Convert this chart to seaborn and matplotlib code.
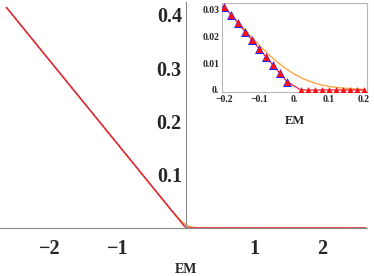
import numpy as np
import pandas as pd
import matplotlib.pyplot as plt
import seaborn as sns
from matplotlib.ticker import MultipleLocator, FixedLocator

# main panel: full curves
main_x = [-2.64, -0.02, 0.02, 2.64]
main_y = [0.414, 0.0031, 0.0, 0.0]
smooth_x = [-2.64, -0.2, -0.175, -0.15, -0.125, -0.1, -0.075, -0.05, -0.025, 0.0,
            0.025, 0.05, 0.075, 0.1, 0.125, 0.15, 0.175, 0.2, 2.64]
smooth_y = [0.414, 0.0310, 0.0275, 0.0238, 0.0203, 0.0168, 0.0136, 0.0107, 0.0082, 0.0060,
            0.0043, 0.0030, 0.0020, 0.00135, 0.0009, 0.0006, 0.0004, 0.00024, 0.0]

# inset: points near zero
pts_x = [-0.2, -0.18, -0.16, -0.14, -0.12, -0.1, -0.08, -0.06, -0.04, -0.02,
         0.02, 0.04, 0.06, 0.08, 0.1, 0.12, 0.14, 0.16, 0.18, 0.2]
pts_y = [0.0312, 0.0281, 0.0250, 0.0218, 0.0186, 0.0155, 0.0124, 0.0093, 0.0062, 0.0031,
         0, 0, 0, 0, 0, 0, 0, 0, 0, 0]
blue_x = pts_x[:10]
blue_y = pts_y[:10]

sns.set_style("white")
plt.rcParams['font.family'] = ['Liberation Serif', 'DejaVu Serif']
plt.rcParams['font.weight'] = 'bold'

RED = '#f22a2a'
ORANGE = '#ffa030'
BLUE = '#2020ff'
GRAY = '#8a8a8a'

fig = plt.figure(figsize=(3.74, 2.76), dpi=100)
ax = fig.add_axes([0, 0, 1, 1])

sns.lineplot(x=smooth_x, y=smooth_y, ax=ax, color=ORANGE, lw=1.1, sort=False, estimator=None)
sns.lineplot(x=main_x, y=main_y, ax=ax, color=RED, lw=1.1, sort=False, estimator=None)
sns.lineplot(x=main_x, y=main_y, ax=ax, color=BLUE, lw=0.8, alpha=0.35, sort=False,
             estimator=None, linestyle=(0, (2, 2)))

ax.set_xlim(-2.735, 2.765)
ax.set_ylim(-0.090, 0.428)
for s in ['top', 'right']:
    ax.spines[s].set_visible(False)
ax.spines['left'].set_position(('data', 0))
ax.spines['bottom'].set_position(('data', 0))
ax.spines['left'].set_bounds(0, 0.425)
ax.spines['bottom'].set_bounds(-2.735, 2.66)
for s in ['left', 'bottom']:
    ax.spines[s].set_color(GRAY)
    ax.spines[s].set_linewidth(0.8)

ax.xaxis.set_major_locator(FixedLocator([-2, -1, 1, 2]))
ax.set_xticklabels(['\u22122', '\u22121', '1', '2'])
ax.xaxis.set_minor_locator(FixedLocator([v / 5 for v in range(-13, 14) if v % 5 != 0]))
ax.yaxis.set_major_locator(FixedLocator([0.1, 0.2, 0.3, 0.4]))
ax.set_yticklabels(['0.1', '0.2', '0.3', '0.4'])
ax.yaxis.set_minor_locator(FixedLocator([v / 50 for v in range(1, 22) if v % 5 != 0]))
ax.tick_params(which='both', direction='in', color=GRAY, width=0.8)
ax.tick_params(which='major', length=5)
ax.tick_params(which='minor', length=3)
ax.tick_params(axis='x', which='major', labelsize=14.5, pad=8)
ax.tick_params(axis='y', which='major', labelsize=14.5, pad=3)
ax.text(0.0, -0.077, 'EM', ha='center', va='center', fontsize=10, fontweight='bold')

# inset
ins = fig.add_axes([222 / 374, 1 - 92 / 276, 145 / 374, 89 / 276])
sns.lineplot(x=smooth_x[1:-1], y=smooth_y[1:-1], ax=ins, color=ORANGE, lw=0.9,
             sort=False, estimator=None)
sns.lineplot(x=pts_x, y=pts_y, ax=ins, color='#e8204a', lw=0.9, sort=False, estimator=None)
sns.scatterplot(x=blue_x, y=blue_y, ax=ins, color=BLUE, marker='^', s=42, linewidth=0, zorder=3)
sns.scatterplot(x=pts_x, y=pts_y, ax=ins, color='#ff1010', marker='^', s=24, linewidth=0, zorder=4)
ins.set_xlim(-0.2067, 0.2098)
ins.set_ylim(-0.00075, 0.0326)
for s in ins.spines.values():
    s.set_color('#b8b8b8')
    s.set_linewidth(0.8)
ins.set_xticks([-0.2, -0.1, 0, 0.1, 0.2])
ins.set_xticklabels(['\u22120.2', '\u22120.1', '0.', '0.1', '0.2'])
ins.set_yticks([0, 0.01, 0.02, 0.03])
ins.set_yticklabels(['0.', '0.01', '0.02', '0.03'])
ins.xaxis.set_minor_locator(MultipleLocator(0.02))
ins.yaxis.set_minor_locator(MultipleLocator(0.002))
ins.tick_params(which='both', direction='in', color=GRAY, width=0.6, labelsize=7)
ins.tick_params(which='major', length=3, pad=2)
ins.tick_params(which='minor', length=1.5)
ins.set_xlabel('EM', fontsize=9, fontweight='bold', labelpad=8)
ins.set_ylabel('')
ins.set_facecolor('white')

fig.savefig('out.png', dpi=100)
